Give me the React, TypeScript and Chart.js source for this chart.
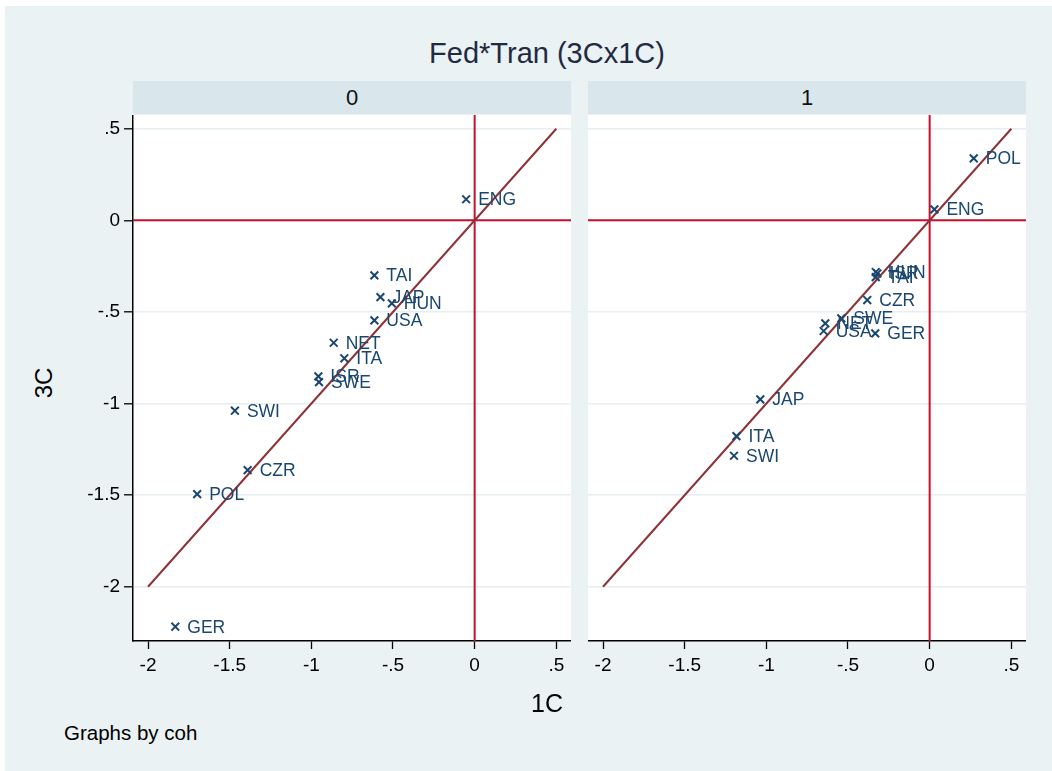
import React, { useEffect, useRef } from "react";
import { Chart, registerables } from "chart.js";

Chart.register(...registerables);

const FONT = '"Liberation Sans", Arial, Helvetica, sans-serif';

// ---- data ----
const panelTitles = ["0", "1"];
const tickValues = [-2, -1.5, -1, -0.5, 0, 0.5];
const tickLabels = ["-2", "-1.5", "-1", "-.5", "0", ".5"];

// panel "0"
const countries0 = ["ENG", "TAI", "JAP", "HUN", "USA", "NET", "ITA", "ISR", "SWE", "SWI", "CZR", "POL", "GER"];
const x0 = [-0.052, -0.614, -0.577, -0.507, -0.614, -0.863, -0.798, -0.957, -0.953, -1.468, -1.39, -1.699, -1.833];
const y0 = [0.115, -0.3, -0.419, -0.453, -0.546, -0.668, -0.753, -0.852, -0.883, -1.039, -1.363, -1.494, -2.218];

// panel "1"
const countries1 = ["POL", "ENG", "HUN", "ISR", "TAI", "CZR", "SWE", "NET", "USA", "GER", "JAP", "ITA", "SWI"];
const x1 = [0.27, 0.029, -0.33, -0.32, -0.33, -0.382, -0.541, -0.639, -0.649, -0.333, -1.037, -1.183, -1.198];
const y1 = [0.338, 0.06, -0.282, -0.29, -0.31, -0.435, -0.535, -0.562, -0.604, -0.617, -0.977, -1.178, -1.285];

// 45-degree reference line
const diagX = [-2, 0.5];
const diagY = [-2, 0.5];

const X_MIN = -2.092;
const X_MAX = 0.59;
const Y_MIN = -2.296;
const Y_MAX = 0.575;

const MARKER = "#1a476f";

const areaBg = {
  id: "areaBg",
  beforeDraw(chart: any) {
    const { ctx, chartArea: a } = chart;
    ctx.save();
    ctx.fillStyle = "#ffffff";
    ctx.fillRect(a.left, a.top, a.right - a.left, a.bottom - a.top);
    ctx.restore();
  },
};

const refLines = {
  id: "refLines",
  beforeDatasetsDraw(chart: any) {
    const { ctx, chartArea: a, scales } = chart;
    const px = scales.x.getPixelForValue(0);
    const py = scales.y.getPixelForValue(0);
    ctx.save();
    ctx.strokeStyle = "#c8102e";
    ctx.lineWidth = 2;
    ctx.beginPath();
    ctx.moveTo(px, a.top);
    ctx.lineTo(px, a.bottom);
    ctx.moveTo(a.left, py);
    ctx.lineTo(a.right, py);
    ctx.stroke();
    ctx.restore();
  },
};

const pointLabels = {
  id: "pointLabels",
  afterDatasetsDraw(chart: any, _args: any, opts: any) {
    const names: string[] = (opts && opts.names) || [];
    const meta = chart.getDatasetMeta(0);
    const { ctx } = chart;
    ctx.save();
    ctx.fillStyle = MARKER;
    ctx.font = `17.5px ${FONT}`;
    ctx.textAlign = "left";
    ctx.textBaseline = "middle";
    meta.data.forEach((el: any, i: number) => {
      ctx.fillText(names[i] ?? "", el.x + 12, el.y + 1);
    });
    ctx.restore();
  },
};

function Panel(props: {
  names: string[];
  xs: number[];
  ys: number[];
  showY: boolean;
  left: number;
  top: number;
  width: number;
  height: number;
}) {
  const ref = useRef<HTMLCanvasElement | null>(null);
  useEffect(() => {
    if (!ref.current) return;
    const pts = props.xs.map((x, i) => ({ x, y: props.ys[i] }));
    const diag = diagX.map((x, i) => ({ x, y: diagY[i] }));
    const chart = new Chart(ref.current, {
      type: "scatter",
      data: {
        datasets: [
          {
            data: pts,
            pointStyle: "crossRot",
            pointRadius: 5.5,
            pointBorderWidth: 2,
            pointBorderColor: MARKER,
            pointBackgroundColor: MARKER,
            borderColor: MARKER,
            showLine: false,
            clip: false,
          } as any,
          {
            data: diag,
            showLine: true,
            borderColor: "#8e3238",
            borderWidth: 2,
            pointRadius: 0,
            fill: false,
          } as any,
        ],
      },
      options: {
        animation: false,
        responsive: false,
        devicePixelRatio: 1,
        layout: { padding: 0, autoPadding: false },
        plugins: {
          legend: { display: false },
          tooltip: { enabled: false },
          title: { display: false },
          pointLabels: { names: props.names },
        } as any,
        scales: {
          x: {
            type: "linear",
            min: X_MIN,
            max: X_MAX,
            afterBuildTicks: (s: any) => {
              s.ticks = tickValues.map((v) => ({ value: v }));
            },
            afterFit: (s: any) => {
              s.height = 60;
              s.paddingLeft = 0;
              s.paddingRight = 0;
            },
            ticks: {
              autoSkip: false,
              maxRotation: 0,
              padding: 5,
              color: "#000",
              font: { family: FONT, size: 19 },
              callback: (_v: any, i: number) => tickLabels[i],
            },
            grid: {
              drawOnChartArea: false,
              drawTicks: true,
              tickLength: 8,
              tickColor: "#000",
              tickWidth: 1.3,
            },
            border: { display: true, color: "#000", width: 1.5 },
          } as any,
          y: {
            type: "linear",
            min: Y_MIN,
            max: Y_MAX,
            afterBuildTicks: (s: any) => {
              s.ticks = tickValues.map((v) => ({ value: v }));
            },
            afterFit: (s: any) => {
              s.width = props.showY ? 73 : 0;
              s.paddingTop = 0;
              s.paddingBottom = 0;
            },
            ticks: {
              display: props.showY,
              autoSkip: false,
              padding: 4,
              color: "#000",
              font: { family: FONT, size: 19 },
              callback: (_v: any, i: number) => tickLabels[i],
            },
            grid: {
              color: "#e6eef1",
              lineWidth: 1.6,
              drawTicks: props.showY,
              tickLength: 9,
              tickColor: "#000",
              tickWidth: 1.3,
            },
            border: { display: props.showY, color: "#000", width: 1.5 },
          } as any,
        },
      },
      plugins: [areaBg, refLines, pointLabels],
    });
    return () => chart.destroy();
  }, []);
  return (
    <canvas
      ref={ref}
      width={props.width}
      height={props.height}
      style={{
        position: "absolute",
        left: props.left,
        top: props.top,
        width: props.width,
        height: props.height,
      }}
    />
  );
}

const txt: React.CSSProperties = {
  position: "absolute",
  fontFamily: FONT,
  whiteSpace: "nowrap",
  lineHeight: 1,
};

export default function App() {
  useEffect(() => {
    document.body.style.margin = "0";
  }, []);
  return (
    <div
      style={{
        position: "fixed",
        left: 0,
        top: 0,
        width: 1052,
        height: 771,
        background: "#ffffff",
        overflow: "hidden",
      }}
    >
      <div
        style={{
          position: "absolute",
          left: 5,
          top: 6,
          width: 1047,
          height: 765,
          background: "#eaf2f3",
        }}
      />
      {/* title */}
      <div
        style={{
          ...txt,
          left: 547,
          top: 53,
          transform: "translate(-50%, -50%)",
          fontSize: 29,
          color: "#1f2a44",
        }}
      >
        Fed*Tran (3Cx1C)
      </div>
      {/* strips */}
      {[133, 588].map((l, i) => (
        <div
          key={i}
          style={{
            position: "absolute",
            left: l,
            top: 81,
            width: 438,
            height: 33,
            background: "#d9e6eb",
          }}
        >
          <div
            style={{
              ...txt,
              left: 219,
              top: 17,
              transform: "translate(-50%, -50%)",
              fontSize: 22,
              color: "#111",
            }}
          >
            {panelTitles[i]}
          </div>
        </div>
      ))}
      <Panel names={countries0} xs={x0} ys={y0} showY={true} left={60} top={115} width={511} height={586} />
      <Panel names={countries1} xs={x1} ys={y1} showY={false} left={588} top={115} width={438} height={586} />
      {/* axis titles */}
      <div
        style={{
          ...txt,
          left: 547,
          top: 703,
          transform: "translate(-50%, -50%)",
          fontSize: 25,
          color: "#000",
        }}
      >
        1C
      </div>
      <div
        style={{
          ...txt,
          left: 44,
          top: 383,
          transform: "translate(-50%, -50%) rotate(-90deg)",
          fontSize: 24,
          color: "#000",
        }}
      >
        3C
      </div>
      <div
        style={{
          ...txt,
          left: 64,
          top: 733,
          transform: "translateY(-50%)",
          fontSize: 20.5,
          color: "#000",
        }}
      >
        Graphs by coh
      </div>
    </div>
  );
}
